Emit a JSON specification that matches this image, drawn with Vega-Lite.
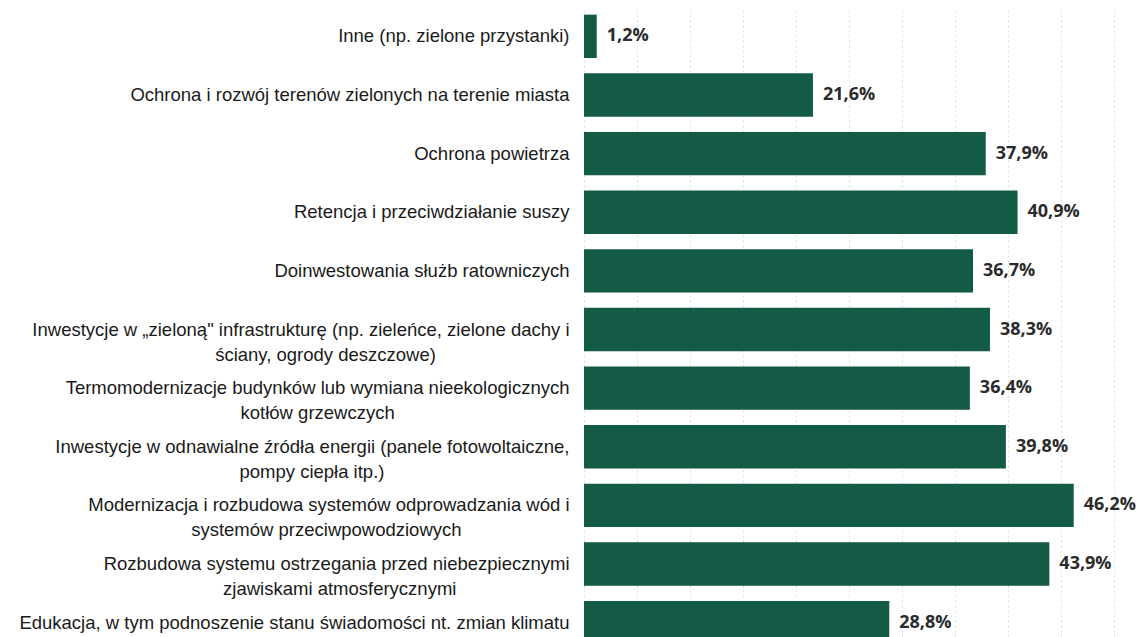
{
  "$schema": "https://vega.github.io/schema/vega-lite/v6.json",
  "autosize": {"type": "none"},
  "width": 530,
  "height": 645,
  "padding": {"left": 584, "top": 7, "right": 32, "bottom": 0},
  "background": "white",
  "config": {"view": {"stroke": null}},
  "data": {
    "values": [
      {"kategoria": "Inne (np. zielone przystanki)", "wartosc": 1.2, "etykieta": "1,2%"},
      {"kategoria": "Ochrona i rozwój terenów zielonych na terenie miasta", "wartosc": 21.6, "etykieta": "21,6%"},
      {"kategoria": "Ochrona powietrza", "wartosc": 37.9, "etykieta": "37,9%"},
      {"kategoria": "Retencja i przeciwdziałanie suszy", "wartosc": 40.9, "etykieta": "40,9%"},
      {"kategoria": "Doinwestowania służb ratowniczych", "wartosc": 36.7, "etykieta": "36,7%"},
      {"kategoria": "Inwestycje w „zieloną\" infrastrukturę (np. zieleńce, zielone dachy i|ściany, ogrody deszczowe)\u00a0\u00a0\u00a0\u00a0\u00a0\u00a0\u00a0\u00a0\u00a0\u00a0\u00a0\u00a0\u00a0\u00a0\u00a0\u00a0\u00a0\u00a0\u00a0\u00a0\u00a0\u00a0\u00a0\u00a0\u00a0\u00a0\u200b", "wartosc": 38.3, "etykieta": "38,3%"},
      {"kategoria": "Termomodernizacje budynków lub wymiana nieekologicznych|kotłów grzewczych\u00a0\u00a0\u00a0\u00a0\u00a0\u00a0\u00a0\u00a0\u00a0\u00a0\u00a0\u00a0\u00a0\u00a0\u00a0\u00a0\u00a0\u00a0\u00a0\u00a0\u00a0\u00a0\u00a0\u00a0\u00a0\u00a0\u00a0\u00a0\u00a0\u00a0\u00a0\u00a0\u00a0\u00a0\u200b", "wartosc": 36.4, "etykieta": "36,4%"},
      {"kategoria": "Inwestycje w odnawialne źródła energii (panele fotowoltaiczne,|pompy ciepła itp.)\u00a0\u00a0\u00a0\u00a0\u00a0\u00a0\u00a0\u00a0\u00a0\u00a0\u00a0\u00a0\u00a0\u00a0\u00a0\u00a0\u00a0\u00a0\u00a0\u00a0\u00a0\u00a0\u00a0\u00a0\u00a0\u00a0\u00a0\u00a0\u00a0\u00a0\u00a0\u00a0\u00a0\u00a0\u00a0\u00a0\u200b", "wartosc": 39.8, "etykieta": "39,8%"},
      {"kategoria": "Modernizacja i rozbudowa systemów odprowadzania wód i|systemów przeciwpowodziowych\u00a0\u00a0\u00a0\u00a0\u00a0\u00a0\u00a0\u00a0\u00a0\u00a0\u00a0\u00a0\u00a0\u00a0\u00a0\u00a0\u00a0\u00a0\u00a0\u00a0\u00a0\u200b", "wartosc": 46.2, "etykieta": "46,2%"},
      {"kategoria": "Rozbudowa systemu ostrzegania przed niebezpiecznymi|zjawiskami atmosferycznymi\u00a0\u00a0\u00a0\u00a0\u00a0\u00a0\u00a0\u00a0\u00a0\u00a0\u00a0\u00a0\u00a0\u00a0\u00a0\u00a0\u00a0\u00a0\u00a0\u00a0\u00a0\u00a0\u200b", "wartosc": 43.9, "etykieta": "43,9%"},
      {"kategoria": "Edukacja, w tym podnoszenie stanu świadomości nt. zmian klimatu", "wartosc": 28.8, "etykieta": "28,8%"}
    ]
  },
  "encoding": {
    "y": {
      "field": "kategoria",
      "type": "nominal",
      "sort": null,
      "title": null,
      "scale": {"paddingInner": 0.26, "paddingOuter": 0.13},
      "axis": {
        "domain": false,
        "ticks": false,
        "labelPadding": 15,
        "labelFont": "Liberation Sans",
        "labelFontSize": 18.5,
        "labelColor": "#1a1a1a",
        "labelLimit": 700,
        "labelLineHeight": 25,
        "labelAlign": "right",
        "labelExpr": "split(datum.label, '|')"
      }
    },
    "x": {
      "field": "wartosc",
      "type": "quantitative",
      "title": null,
      "scale": {"domain": [0, 50]},
      "axis": {
        "domain": false,
        "ticks": false,
        "labels": false,
        "values": [0, 5, 10, 15, 20, 25, 30, 35, 40, 45, 50],
        "grid": true,
        "gridColor": "#cfe0e0",
        "gridDash": [2, 3],
        "gridWidth": 1
      }
    }
  },
  "layer": [
    {"mark": {"type": "bar", "color": "#135a47"}},
    {
      "mark": {"type": "text", "align": "left", "dx": 10, "font": "Open Sans", "fontWeight": "bold", "fontSize": 18, "color": "#2b2b2b"},
      "encoding": {"text": {"field": "etykieta"}}
    }
  ]
}
